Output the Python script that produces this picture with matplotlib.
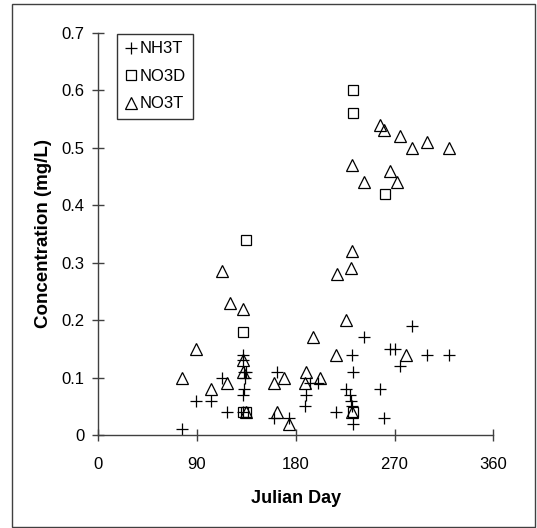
import matplotlib
matplotlib.use("Agg")
import matplotlib.pyplot as plt
from matplotlib.patches import Rectangle

plt.rcParams['font.family'] = ['Liberation Sans', 'DejaVu Sans']

# NH3T (plus markers)
nh3t_day = [76, 89, 103, 113, 117, 132, 132, 133, 134, 133, 132, 132, 135,
            160, 163, 174, 189, 188, 193, 200, 217, 226, 229, 231, 232, 230,
            231, 232, 242, 257, 260, 266, 270, 275, 286, 300, 320]
nh3t_val = [0.01, 0.06, 0.06, 0.10, 0.04, 0.14, 0.13, 0.11, 0.10, 0.08, 0.07,
            0.04, 0.11, 0.03, 0.11, 0.03, 0.07, 0.05, 0.09, 0.09, 0.04, 0.08,
            0.07, 0.14, 0.11, 0.06, 0.05, 0.02, 0.17, 0.08, 0.03, 0.15, 0.15,
            0.12, 0.19, 0.14, 0.14]

# NO3D (square markers)
no3d_day = [232, 232, 135, 132, 132, 135, 261, 232]
no3d_val = [0.60, 0.56, 0.34, 0.18, 0.04, 0.04, 0.42, 0.04]

# NO3T (triangle markers)
no3t_day = [76, 89, 103, 117, 113, 120, 132, 132, 132, 135, 160, 163, 169,
            174, 189, 188, 196, 202, 217, 218, 226, 230, 231, 231, 231, 242,
            257, 260, 266, 272, 275, 280, 286, 300, 320]
no3t_val = [0.10, 0.15, 0.08, 0.09, 0.285, 0.23, 0.22, 0.13, 0.11, 0.04, 0.09,
            0.04, 0.10, 0.02, 0.11, 0.09, 0.17, 0.10, 0.14, 0.28, 0.20, 0.29,
            0.32, 0.47, 0.04, 0.44, 0.54, 0.53, 0.46, 0.44, 0.52, 0.14, 0.50,
            0.51, 0.50]

x_ticks = [0, 90, 180, 270, 360]
y_ticks = [0, 0.1, 0.2, 0.3, 0.4, 0.5, 0.6, 0.7]
y_labels = ['0', '0.1', '0.2', '0.3', '0.4', '0.5', '0.6', '0.7']

fig = plt.figure(figsize=(5.37, 5.28), dpi=100)
ax = fig.add_axes([0.183, 0.176, 0.7356, 0.762])

style = dict(linestyle='none', mfc='none', mec='black', color='black', mew=0.9)
ax.plot(nh3t_day, nh3t_val, marker='+', ms=9, label='NH3T', **style)
ax.plot(no3d_day, no3d_val, marker='s', ms=7.5, label='NO3D', **style)
ax.plot(no3t_day, no3t_val, marker='^', ms=8.5, label='NO3T', **style)

ax.set_xlim(0, 360)
ax.set_ylim(0, 0.7)
ax.set_xticks(x_ticks)
ax.set_yticks(y_ticks)
ax.set_yticklabels(y_labels)
ax.tick_params(direction='inout', length=8, width=1, color='#404040',
               labelsize=12, pad=6)
ax.tick_params(axis='x', pad=12)
for side in ['top', 'right']:
    ax.spines[side].set_visible(False)
for side in ['left', 'bottom']:
    ax.spines[side].set_color('#404040')
    ax.spines[side].set_linewidth(1)

ax.set_xlabel('Julian Day', fontsize=13, fontweight='bold', labelpad=13)
ax.set_ylabel('Concentration (mg/L)', fontsize=13.5, fontweight='bold', labelpad=7)

leg = ax.legend(loc='upper left', bbox_to_anchor=(0.048, 0.997), fontsize=12,
                frameon=True, fancybox=False, handlelength=0.8,
                handletextpad=0.1, borderpad=0.45, labelspacing=0.75,
                borderaxespad=0)
leg.get_frame().set_edgecolor('black')
leg.get_frame().set_linewidth(1)

fig.patches.append(Rectangle((0.0223, 0.0019), 0.974, 0.9905, transform=fig.transFigure,
                             fill=False, edgecolor='#404040', linewidth=1))

fig.savefig('out.png', dpi=100)
